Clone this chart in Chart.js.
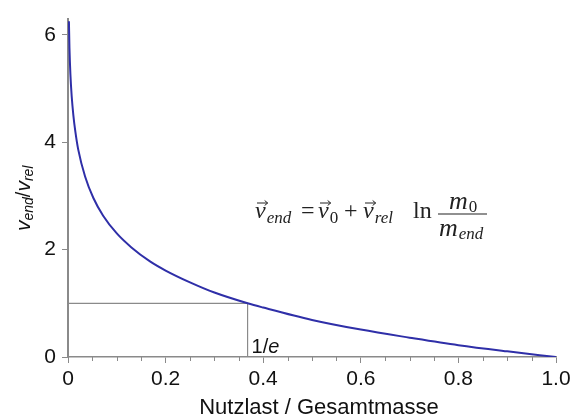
<!DOCTYPE html>
<html>
<head>
<meta charset="utf-8">
<script src="https://cdn.jsdelivr.net/npm/chart.js@4.4.1/dist/chart.umd.min.js"></script>
<style>
  html, body { margin: 0; padding: 0; background: #fff; }
  canvas { display: block; }
</style>
</head>
<body>
<canvas id="rocketChart" width="580" height="417"></canvas>
<script>
// payload ratio (m_end / m_0) and the resulting v_end / v_rel
const massRatio = [0.0019, 0.003, 0.005, 0.0076, 0.011, 0.015, 0.021, 0.035, 0.052, 0.072, 0.1, 0.13, 0.168, 0.2, 0.25, 0.3, 0.368, 0.4, 0.5, 0.6, 0.7, 0.8, 0.9, 1.0];
const speedRatio = [6.25, 5.75, 5.25, 4.85, 4.5, 4.2, 3.86, 3.36, 2.96, 2.63, 2.3, 2.04, 1.78, 1.61, 1.39, 1.2, 1.0, 0.92, 0.69, 0.51, 0.36, 0.22, 0.105, 0.0];

// helper lines marking 1/e
const markX = [0, 0.368, 0.368];
const markY = [1, 1, 0];

const xTicks = [0, 0.2, 0.4, 0.6, 0.8, 1.0];
const yTicks = [0, 2, 4, 6];

const axisGray = "#8a8a8a";
const sans = '"Liberation Sans", Arial, sans-serif';
const serif = '"Liberation Serif", "DejaVu Serif", serif';

function textAt(ctx, str, x, base, font) {
  ctx.font = font;
  ctx.fillText(str, x, base);
  return x + ctx.measureText(str).width;
}

// italic v with a small arrow on top
function vecV(ctx, x, base) {
  const w = textAt(ctx, "v", x, base, "italic 24px " + serif) - x;
  const ay = base - 15;
  ctx.beginPath();
  ctx.lineWidth = 1;
  ctx.moveTo(x + 2, ay);
  ctx.lineTo(x + w + 2, ay);
  ctx.moveTo(x + w - 1, ay - 2.5);
  ctx.lineTo(x + w + 2, ay);
  ctx.lineTo(x + w - 1, ay + 2.5);
  ctx.stroke();
  return x + w;
}

const extrasPlugin = {
  id: "extras",
  afterDraw(chart) {
    const ctx = chart.ctx;
    const xs = chart.scales.x;
    const area = chart.chartArea;

    // minor ticks on the x axis
    ctx.save();
    ctx.strokeStyle = axisGray;
    ctx.lineWidth = 1;
    for (let i = 1; i < 20; i++) {
      if (i % 4 === 0) continue;
      const px = Math.round(xs.getPixelForValue(i * 0.05)) + 0.5;
      ctx.beginPath();
      ctx.moveTo(px, area.bottom);
      ctx.lineTo(px, area.bottom + 4);
      ctx.stroke();
    }
    ctx.restore();

    ctx.save();
    ctx.fillStyle = "#111";
    ctx.textBaseline = "alphabetic";

    // x axis title
    ctx.textAlign = "center";
    ctx.font = "22px " + sans;
    ctx.fillText("Nutzlast / Gesamtmasse", 319, 414);
    ctx.textAlign = "left";

    // 1/e label
    let lx = xs.getPixelForValue(0.368) + 4;
    lx = textAt(ctx, "1/", lx, area.bottom - 4, "20px " + sans);
    textAt(ctx, "e", lx, area.bottom - 4, "italic 20px " + sans);

    // y axis title, rotated
    ctx.translate(30, 231);
    ctx.rotate(-Math.PI / 2);
    let tx = 0;
    tx = textAt(ctx, "v", tx, 0, "italic 21px " + sans);
    tx = textAt(ctx, "end", tx, 3, "italic 14px " + sans);
    tx = textAt(ctx, "/", tx, 0, "20px " + sans);
    tx = textAt(ctx, "v", tx, 0, "italic 21px " + sans);
    textAt(ctx, "rel", tx, 3, "italic 14px " + sans);
    ctx.restore();

    // formula  v_end = v_0 + v_rel ln m_0 / m_end
    ctx.save();
    ctx.fillStyle = "#222";
    ctx.strokeStyle = "#222";
    const base = 218;
    const sub = "italic 17px " + serif;
    let fx = vecV(ctx, 255, base);
    textAt(ctx, "end", fx + 1, base + 5, sub);
    textAt(ctx, "=", 301, base, "24px " + serif);
    fx = vecV(ctx, 318, base);
    textAt(ctx, "0", fx + 1, base + 5, "17px " + serif);
    textAt(ctx, "+", 344, base, "24px " + serif);
    fx = vecV(ctx, 363, base);
    textAt(ctx, "rel", fx + 1, base + 5, sub);
    textAt(ctx, "ln", 413, base, "24px " + serif);
    // fraction bar
    ctx.beginPath();
    ctx.lineWidth = 1.1;
    ctx.moveTo(438, 214);
    ctx.lineTo(487, 214);
    ctx.stroke();
    let nx = textAt(ctx, "m", 449, 209, "italic 26px " + serif);
    textAt(ctx, "0", nx + 1, 212, "17px " + serif);
    let dx = textAt(ctx, "m", 439, 236, "italic 26px " + serif);
    textAt(ctx, "end", dx + 1, 239, sub);
    ctx.restore();
  }
};

new Chart(document.getElementById("rocketChart"), {
  type: "line",
  data: {
    datasets: [
      {
        label: "v_end / v_rel",
        data: massRatio.map((m, i) => ({ x: m, y: speedRatio[i] })),
        borderColor: "#2f2fa8",
        borderWidth: 2,
        pointRadius: 0,
        cubicInterpolationMode: "monotone",
        fill: false,
      },
      {
        label: "1/e",
        data: markX.map((m, i) => ({ x: m, y: markY[i] })),
        borderColor: "#8a8a8a",
        borderWidth: 1.2,
        pointRadius: 0,
        tension: 0,
        fill: false,
      },
    ],
  },
  options: {
    responsive: false,
    animation: false,
    layout: { padding: { top: 12, right: 24, left: 0, bottom: 0 } },
    plugins: {
      legend: { display: false },
      tooltip: { enabled: false },
    },
    scales: {
      x: {
        type: "linear",
        min: 0,
        max: 1,
        afterFit(scale) { scale.height = 60; },
        afterBuildTicks(scale) { scale.ticks = xTicks.map((v) => ({ value: v })); },
        grid: {
          drawOnChartArea: false,
          drawTicks: true,
          tickLength: 6,
          tickColor: axisGray,
          tickWidth: 1,
        },
        border: { color: axisGray, width: 1.5 },
        ticks: {
          color: "#111",
          padding: 4,
          maxRotation: 0,
          font: { family: sans, size: 21 },
          callback: (v) => (v === 0 ? "0" : v.toFixed(1)),
        },
      },
      y: {
        type: "linear",
        min: 0,
        max: 6.3,
        afterFit(scale) { scale.width = 68; },
        afterBuildTicks(scale) { scale.ticks = yTicks.map((v) => ({ value: v })); },
        grid: {
          drawOnChartArea: false,
          drawTicks: true,
          tickLength: 6,
          tickColor: axisGray,
          tickWidth: 1,
        },
        border: { color: axisGray, width: 2 },
        ticks: {
          color: "#111",
          padding: 6,
          font: { family: sans, size: 21 },
        },
      },
    },
  },
  plugins: [extrasPlugin],
});
</script>
</body>
</html>
